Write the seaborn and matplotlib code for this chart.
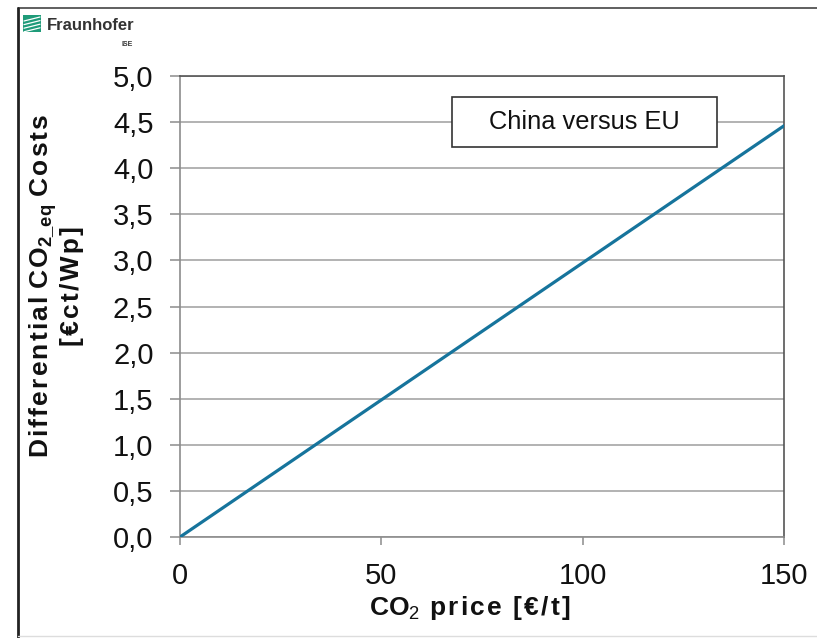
import matplotlib
matplotlib.use("Agg")
import matplotlib.pyplot as plt
import seaborn as sns
import pandas as pd
from matplotlib.patches import Rectangle
from matplotlib.lines import Line2D

# data
co2_price = [0, 150]
diff_costs = [0.0, 4.46]
series_label = "China versus EU"
x_ticks = [0, 50, 100, 150]
y_ticks = [0.0, 0.5, 1.0, 1.5, 2.0, 2.5, 3.0, 3.5, 4.0, 4.5, 5.0]
y_tick_labels = ["0,0", "0,5", "1,0", "1,5", "2,0", "2,5", "3,0", "3,5", "4,0", "4,5", "5,0"]

sns.set_theme(style="white")
plt.rcParams["font.family"] = ["Liberation Sans", "DejaVu Sans"]
plt.rcParams["mathtext.fontset"] = "custom"
plt.rcParams["mathtext.rm"] = "Liberation Sans"
plt.rcParams["mathtext.bf"] = "Liberation Sans:bold"

HS = "\u200a"


def sp(s):
    return HS.join(list(s))


W, H = 817, 638
fig = plt.figure(figsize=(W / 100, H / 100), dpi=100)
ax = fig.add_axes([180 / W, 1 - 537 / H, (784 - 180) / W, (537 - 76) / H])

df = pd.DataFrame({"price": co2_price, "cost": diff_costs})
sns.lineplot(data=df, x="price", y="cost", ax=ax, color="#16749c", linewidth=2.3, zorder=3)

ax.set_xlim(0, 150)
ax.set_ylim(0, 5)
ax.set_xticks(x_ticks)
ax.set_xticklabels([str(t) for t in x_ticks])
ax.set_yticks(y_ticks)
ax.set_yticklabels(y_tick_labels)
ax.set_ylabel("")
ax.yaxis.grid(True, color="#a6a6a6", linewidth=1.2)
ax.xaxis.grid(False)
ax.set_axisbelow(True)
for s in ["left", "bottom"]:
    ax.spines[s].set_color("#8c8c8c")
    ax.spines[s].set_linewidth(1.2)
for s in ["top", "right"]:
    ax.spines[s].set_color("#555555")
    ax.spines[s].set_linewidth(1.2)

ax.tick_params(axis="y", which="major", left=True, length=7, width=1.1, color="#8c8c8c",
               pad=12, labelsize=21, labelcolor="#111111")
ax.tick_params(axis="x", which="major", bottom=True, length=6, width=1.1, color="#8c8c8c",
               pad=12, labelsize=21, labelcolor="#111111")

ax.set_xlabel("CO$_2$" + HS + " " + sp("price [€/t]"), fontsize=19, fontweight="bold",
              color="#111111")
ax.xaxis.set_label_coords((470 - 180) / 604, (537 - 622) / 461, transform=ax.transAxes)
ax.xaxis.label.set_va("bottom")

# y label (two lines)
ycen = (537 - 286) / 461
ax.text((43 - 180) / 604, ycen,
        sp("Differential") + " " + sp("CO") + "$_{\\mathbf{2\\_eq}}$" + " " + sp("Costs"),
        transform=ax.transAxes, rotation=90, ha="center", va="center",
        fontsize=19, fontweight="bold", color="#111111")
ax.text((72 - 180) / 604, ycen, sp("[€ct/Wp]"),
        transform=ax.transAxes, rotation=90, ha="center", va="center",
        fontsize=19, fontweight="bold", color="#111111")

# label box
ax.add_patch(Rectangle((0.450, 0.846), 0.439, 0.108, transform=ax.transAxes,
                       facecolor="white", edgecolor="#333333", linewidth=1.2, zorder=4))
ax.text(0.6695, 0.900, series_label, transform=ax.transAxes, ha="center", va="center",
        fontsize=18.3, color="#111111", zorder=5)

# page frame
fig.add_artist(Line2D([18 / W, 1.0], [1 - 8 / H, 1 - 8 / H], transform=fig.transFigure,
                      color="#444444", linewidth=1.2))
fig.add_artist(Line2D([18 / W, 18 / W], [0.0, 1 - 8 / H], transform=fig.transFigure,
                      color="#222222", linewidth=2.0))
fig.add_artist(Line2D([18 / W, 1.0], [1 - 636 / H, 1 - 636 / H], transform=fig.transFigure,
                      color="#dddddd", linewidth=1.0))

# Fraunhofer logo
fig.add_artist(Rectangle((23 / W, 1 - 32 / H), 18 / W, 17 / H, transform=fig.transFigure,
                         facecolor="#1f9b79", edgecolor="none"))
for k in range(4):
    y0 = 1 - (19 + 3.6 * k) / H
    fig.add_artist(Line2D([24 / W, 40 / W], [y0 - 2 / H, y0 + 2 / H], transform=fig.transFigure,
                          color="white", linewidth=0.9))
fig.text(47 / W, 1 - 25 / H, "Fraunhofer", fontsize=12, fontweight="bold", color="#333333",
         va="center", ha="left")
fig.text(121 / W, 1 - 44 / H, "ISE", fontsize=5, fontweight="bold", color="#333333",
         va="center", ha="left")

fig.savefig("out.png", dpi=100)
